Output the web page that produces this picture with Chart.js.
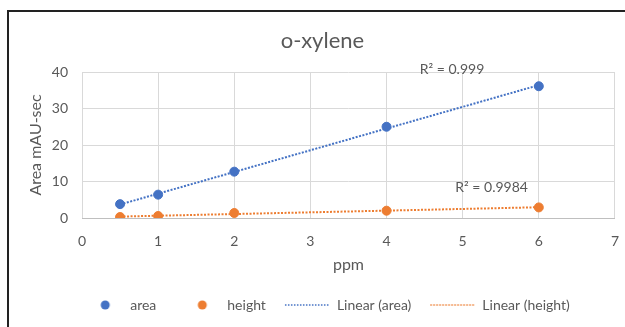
<!DOCTYPE html>
<html>
<head>
<meta charset="utf-8">
<script src="https://cdn.jsdelivr.net/npm/chart.js@4/dist/chart.umd.min.js"></script>
<style>
  body { margin: 0; background: #fff; }
  #wrap { position: relative; width: 625px; height: 327px; overflow: hidden; }
  #frame {
    position: absolute; left: 7px; top: 10px; width: 700px; height: 400px;
    border-left: 2px solid #222; border-top: 2px solid #222; pointer-events: none;
  }
</style>
</head>
<body>
<div id="wrap">
  <canvas id="chart" width="625" height="327"></canvas>
  <div id="frame"></div>
</div>
<script>
// values
const ppm = [0.5, 1, 2, 4, 6];
const area = [3.8, 6.4, 12.7, 25.0, 36.1];
const height = [0.27, 0.55, 1.37, 2.0, 2.9];

// trendline end points (Excel "Linear" fit)
const trendX = [0.5, 6];
const areaTrend = [3.7, 36.4];
const heightTrend = [0.39, 2.95];

const seriesNames = ['area', 'height', 'Linear (area)', 'Linear (height)'];
const r2Texts = ['R² = 0.999', 'R² = 0.9984'];

const BLUE = '#4472C4';
const ORANGE = '#ED7D31';
const TEXT = '#595959';
const FONT = 'Lato, "Open Sans", sans-serif';

const pts = (xs, ys) => xs.map((x, i) => ({ x: x, y: ys[i] }));

// little pictures for the legend: a dot or a dotted line
function legendDot(color) {
  const c = document.createElement('canvas');
  c.width = 48; c.height = 12;
  const g = c.getContext('2d');
  g.fillStyle = color;
  g.beginPath();
  g.arc(30, 6, 4.5, 0, Math.PI * 2);
  g.fill();
  return c;
}
function legendDots(color) {
  const c = document.createElement('canvas');
  c.width = 48; c.height = 12;
  const g = c.getContext('2d');
  g.strokeStyle = color;
  g.lineWidth = 1.5;
  g.setLineDash([1.5, 1.5]);
  g.beginPath();
  g.moveTo(3, 6);
  g.lineTo(47, 6);
  g.stroke();
  return c;
}
const legendPics = [legendDot(BLUE), legendDot(ORANGE), legendDots(BLUE), legendDots(ORANGE)];

// R² labels, placed in data units
const r2Spots = [{ x: 4.86, y: 40.8 }, { x: 5.38, y: 8.3 }];
const r2Plugin = {
  id: 'r2',
  afterDatasetsDraw(chart) {
    const { ctx, scales: { x, y } } = chart;
    ctx.save();
    ctx.font = '14px ' + FONT;
    ctx.fillStyle = TEXT;
    ctx.textAlign = 'center';
    ctx.textBaseline = 'middle';
    r2Texts.forEach((t, i) => {
      ctx.fillText(t, x.getPixelForValue(r2Spots[i].x), y.getPixelForValue(r2Spots[i].y));
    });
    ctx.restore();
  }
};

const ctx = document.getElementById('chart').getContext('2d');
const chart = new Chart(ctx, {
  type: 'scatter',
  data: {
    datasets: [
      { label: seriesNames[0], data: pts(ppm, area), backgroundColor: BLUE, borderColor: BLUE, pointRadius: 4.5, showLine: false },
      { label: seriesNames[1], data: pts(ppm, height), backgroundColor: ORANGE, borderColor: ORANGE, pointRadius: 4.5, showLine: false },
      { label: seriesNames[2], data: pts(trendX, areaTrend), borderColor: BLUE, backgroundColor: BLUE, showLine: true, pointRadius: 0, borderWidth: 2, borderDash: [2, 1.5] },
      { label: seriesNames[3], data: pts(trendX, heightTrend), borderColor: ORANGE, backgroundColor: ORANGE, showLine: true, pointRadius: 0, borderWidth: 2, borderDash: [2, 1.5] }
    ]
  },
  options: {
    responsive: false,
    animation: false,
    layout: { padding: { left: 20, right: 0, top: 0, bottom: 5 } },
    scales: {
      x: {
        min: 0, max: 7,
        // small padding keeps the plot wide; the tall line height pushes the labels down
        ticks: { stepSize: 1, color: TEXT, font: { family: FONT, size: 14, lineHeight: 2.43 }, padding: 6 },
        grid: { color: '#d9d9d9', drawTicks: false },
        border: { display: true, color: '#bfbfbf' },
        title: { display: true, text: 'ppm', color: TEXT, font: { family: FONT, size: 16 }, padding: { top: 4, bottom: 7.4 } },
        afterFit: (s) => { s.height = 64; }
      },
      y: {
        min: 0, max: 40,
        ticks: { stepSize: 10, color: TEXT, font: { family: FONT, size: 14 }, padding: 14 },
        grid: { color: '#d9d9d9', drawTicks: false },
        border: { display: false },
        title: { display: true, text: 'Area mAU-sec', color: TEXT, font: { family: FONT, size: 16 }, padding: { top: 6.4, bottom: 4 } },
        afterFit: (s) => { s.width = 62; }
      }
    },
    plugins: {
      title: {
        display: true, text: 'o-xylene', color: TEXT,
        font: { family: FONT, size: 22, weight: 'normal' },
        padding: { top: 28, bottom: 17.6 }
      },
      legend: {
        position: 'bottom',
        labels: {
          usePointStyle: true,
          pointStyleWidth: 48,
          padding: 16,
          color: TEXT,
          font: { family: FONT, size: 14 },
          generateLabels: (c) => {
            const items = Chart.defaults.plugins.legend.labels.generateLabels(c);
            items.forEach((it, i) => { it.pointStyle = legendPics[i]; });
            return items;
          }
        }
      },
      tooltip: { enabled: false }
    }
  },
  plugins: [r2Plugin]
});
</script>
</body>
</html>
